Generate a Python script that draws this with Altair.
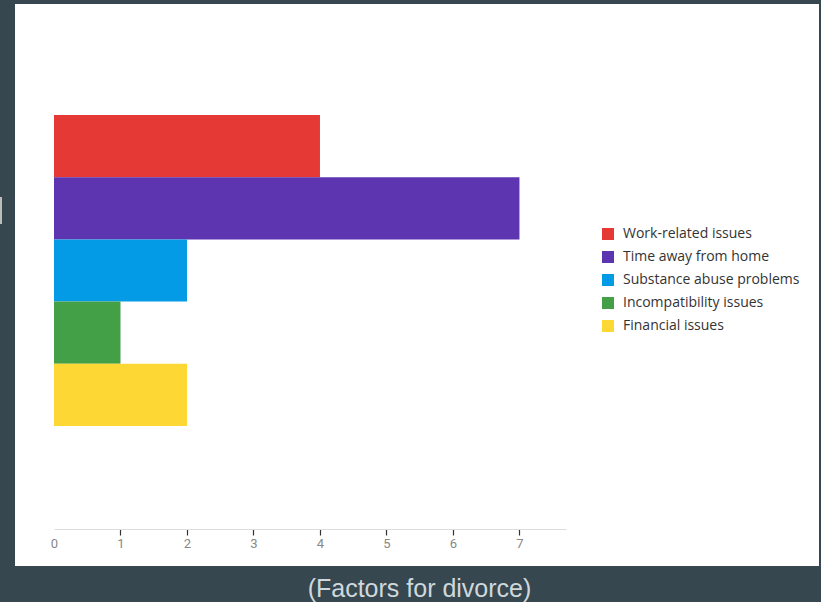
import altair as alt
import pandas as pd

# Survey answers: how many respondents named each factor
factors = [
    "Work-related issues",
    "Time away from home",
    "Substance abuse problems",
    "Incompatibility issues",
    "Financial issues",
]
counts = [4, 7, 2, 1, 2]
colors = ["#E53935", "#5E35B1", "#039BE5", "#43A047", "#FDD835"]
tick_values = [0, 1, 2, 3, 4, 5, 6, 7]
caption = "(Factors for divorce)"

df = pd.DataFrame({"group": "all", "factor": factors, "count": counts})

PLOT_W, PLOT_H = 512, 517
PAD_L, PAD_T = 54, 12

# white card behind the plot
card = alt.Chart(alt.Data(values=[{}])).mark_rect(color="white").encode(
    x=alt.value(-39), x2=alt.value(765), y=alt.value(-8), y2=alt.value(554)
)

# small grey tab at the left edge
tab = alt.Chart(alt.Data(values=[{}])).mark_rect(color="#BDBDBD").encode(
    x=alt.value(-54), x2=alt.value(-52), y=alt.value(185), y2=alt.value(212)
)

bars = alt.Chart(df).mark_bar().encode(
    x=alt.X(
        "count:Q",
        scale=alt.Scale(domain=[0, 7.7], nice=False),
        axis=alt.Axis(
            title=None,
            values=tick_values,
            grid=False,
            zindex=1,
            domainColor="#DDDDDD",
            tickColor={"condition": {"test": "datum.value === 0", "value": "transparent"}, "value": "#333333"},
            tickSize=6,
            tickWidth=1.2,
            labelColor="#888888",
            labelFont="Roboto",
            labelFontSize=13,
            labelPadding=2,
            labelFlush=False,
        ),
    ),
    y=alt.Y("group:N", axis=None, scale=alt.Scale(paddingInner=0, paddingOuter=0.331)),
    yOffset=alt.YOffset("factor:N", sort=factors, scale=alt.Scale(paddingInner=0, paddingOuter=0)),
    color=alt.Color(
        "factor:N",
        sort=factors,
        scale=alt.Scale(domain=factors, range=colors),
        legend=alt.Legend(
            title=None,
            orient="none",
            legendX=547,
            legendY=215,
            symbolType="square",
            symbolSize=144,
            symbolStrokeWidth=0,
            labelFont="Open Sans",
            labelFontSize=14,
            labelColor="#333333",
            labelOffset=8,
            labelLimit=400,
            rowPadding=9,
            padding=0,
        ),
    ),
)

caption_text = alt.Chart(alt.Data(values=[{"t": caption}])).mark_text(
    font="Liberation Sans", fontSize=25, color="#CFD8DC", align="center", baseline="middle"
).encode(x=alt.value(365.5), y=alt.value(577), text="t:N")

chart = alt.layer(card, tab, bars, caption_text).properties(
    width=PLOT_W,
    height=PLOT_H,
    background="#37474F",
    autosize=alt.AutoSizeParams(type="none"),
    padding={"left": PAD_L, "top": PAD_T, "right": 821 - PAD_L - PLOT_W, "bottom": 602 - PAD_T - PLOT_H},
).configure_view(stroke=None)

chart.save("out.html", embed_options={"renderer": "svg", "actions": False})
